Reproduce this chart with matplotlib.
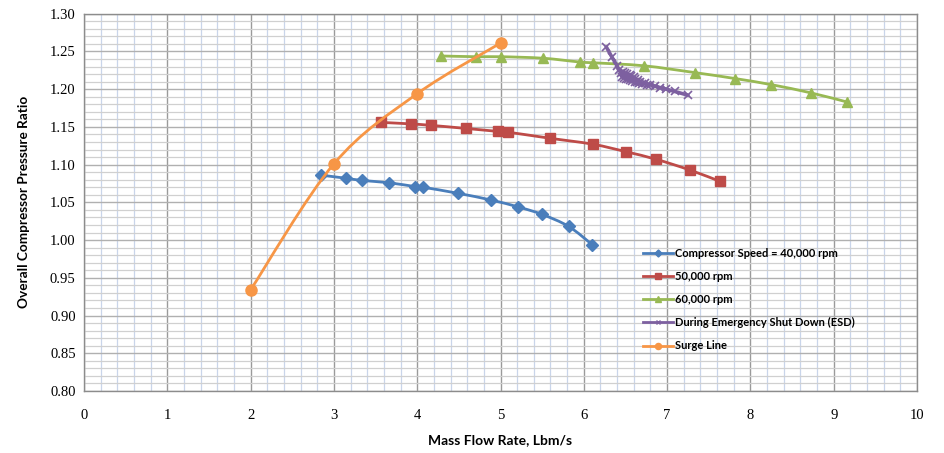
import numpy as np
import matplotlib
matplotlib.use("Agg")
import matplotlib.pyplot as plt
from matplotlib.path import Path
from matplotlib.patches import PathPatch
from matplotlib.lines import Line2D
from matplotlib.ticker import MultipleLocator, FormatStrFormatter

# ---------------- data ----------------
speed40_x = [2.85, 3.14, 3.34, 3.66, 3.97, 4.07, 4.49, 4.89, 5.21, 5.50, 5.82, 6.10]
speed40_y = [1.086, 1.082, 1.079, 1.076, 1.071, 1.070, 1.062, 1.053, 1.044, 1.034, 1.018, 0.994]

speed50_x = [3.56, 3.92, 4.17, 4.58, 4.97, 5.09, 5.59, 6.11, 6.51, 6.87, 7.27, 7.63]
speed50_y = [1.156, 1.154, 1.152, 1.148, 1.144, 1.143, 1.135, 1.127, 1.117, 1.107, 1.093, 1.078]

speed60_x = [4.28, 4.71, 5.01, 5.51, 5.95, 6.11, 6.72, 7.33, 7.82, 8.25, 8.73, 9.16]
speed60_y = [1.244, 1.243, 1.243, 1.241, 1.236, 1.235, 1.231, 1.222, 1.214, 1.206, 1.195, 1.183]

esd_x = [6.27, 6.34, 6.40, 6.42, 6.45, 6.46, 6.47, 6.48, 6.50, 6.51, 6.52, 6.53, 6.55, 6.56,
         6.57, 6.58, 6.60, 6.61, 6.62, 6.64, 6.65, 6.66, 6.68, 6.70, 6.73, 6.76, 6.80,
         6.85, 6.92, 6.99, 7.09, 7.25]
esd_y = [1.256, 1.242, 1.231, 1.225, 1.222, 1.216, 1.223, 1.215, 1.221, 1.214, 1.220, 1.213, 1.219, 1.212,
         1.217, 1.211, 1.216, 1.210, 1.214, 1.209, 1.212, 1.208, 1.210, 1.207, 1.208, 1.205, 1.206,
         1.204, 1.202, 1.200, 1.197, 1.192]

surge_x = [2.0, 3.0, 4.0, 5.0]
surge_y = [0.934, 1.101, 1.194, 1.261]

labels = ["Compressor Speed = 40,000 rpm", "50,000 rpm", "60,000 rpm",
          "During Emergency Shut Down (ESD)", "Surge Line"]
x_label = "Mass Flow Rate, Lbm/s"
y_label = "Overall Compressor Pressure Ratio"

# ---------------- styling ----------------
colors = ["#4A7EBB", "#BE4B48", "#98B954", "#7D60A0", "#F79646"]
markers = ["D", "s", "^", "x", "o"]
msizes = [6.5, 7, 7, 6, 8]
lws = [2.0, 2.0, 2.0, 2.6, 2.0]

W, H = 944, 453
fig = plt.figure(figsize=(W / 100, H / 100), dpi=100)
ax = fig.add_axes([84 / W, 1 - 391 / H, (917 - 84) / W, (391 - 13.7) / H])

ax.set_xlim(0, 10)
ax.set_ylim(0.80, 1.30)
ax.xaxis.set_major_locator(MultipleLocator(1))
ax.xaxis.set_minor_locator(MultipleLocator(0.2))
ax.yaxis.set_major_locator(MultipleLocator(0.05))
ax.yaxis.set_minor_locator(MultipleLocator(0.01))
ax.yaxis.set_major_formatter(FormatStrFormatter("%.2f"))

ax.grid(which="minor", axis="x", color="#C9D5EA", lw=0.9)
ax.grid(which="minor", axis="y", color="#D0D0D0", lw=0.9)
ax.grid(which="major", axis="x", color="#9A9A9A", lw=1.0)
ax.grid(which="major", axis="y", color="#B0B0B0", lw=1.0)
ax.set_axisbelow(True)
for s in ax.spines.values():
    s.set_color("#8C8C8C")
    s.set_linewidth(1.0)

ax.tick_params(which="both", length=0)
ax.tick_params(axis="x", pad=13)
ax.tick_params(axis="y", pad=6)
for lab in ax.get_xticklabels() + ax.get_yticklabels():
    lab.set_fontfamily("Liberation Serif")
    lab.set_fontsize(10.5)

ax.set_xlabel(x_label, fontfamily="Lato", fontweight="bold", fontsize=10, labelpad=9)
ax.set_ylabel(y_label, fontfamily="Lato", fontweight="bold", fontsize=9.8, labelpad=14)


def smooth_path(xs, ys):
    pts = np.column_stack([xs, ys]).astype(float)
    n = len(pts)
    verts = [pts[0]]
    codes = [Path.MOVETO]
    for i in range(n - 1):
        p0 = pts[i - 1] if i > 0 else pts[i]
        p1 = pts[i]
        p2 = pts[i + 1]
        p3 = pts[i + 2] if i + 2 < n else pts[i + 1]
        c1 = p1 + (p2 - p0) / 6.0
        c2 = p2 - (p3 - p1) / 6.0
        verts += [c1, c2, p2]
        codes += [Path.CURVE4] * 3
    return Path(verts, codes)


series = [(speed40_x, speed40_y), (speed50_x, speed50_y), (speed60_x, speed60_y),
          (esd_x, esd_y), (surge_x, surge_y)]

handles = []
for k, (xs, ys) in enumerate(series):
    z = 3 + k
    patch = PathPatch(smooth_path(xs, ys), facecolor="none", edgecolor=colors[k],
                      lw=lws[k], zorder=z, transform=ax.transData, capstyle="round",
                      joinstyle="round")
    ax.add_patch(patch)
    mk = dict(marker=markers[k], ms=msizes[k], color=colors[k], ls="none", zorder=z)
    if markers[k] == "x":
        mk.update(mew=1.2)
    else:
        mk.update(mec=colors[k])
    ax.plot(xs, ys, **mk)
    handles.append(Line2D([], [], color=colors[k], lw=2.0, marker=markers[k],
                          ms=msizes[k] * 0.55, mew=1.0))

leg = ax.legend(handles, labels, loc="upper left",
                bbox_to_anchor=(637 / W, 1 - 242 / H), bbox_transform=fig.transFigure,
                frameon=False, handlelength=2.75, handletextpad=0.15, labelspacing=1.1,
                borderpad=0, prop=dict(family="Lato", weight="bold", size=8))

fig.savefig("out.png", dpi=100, facecolor="white")
